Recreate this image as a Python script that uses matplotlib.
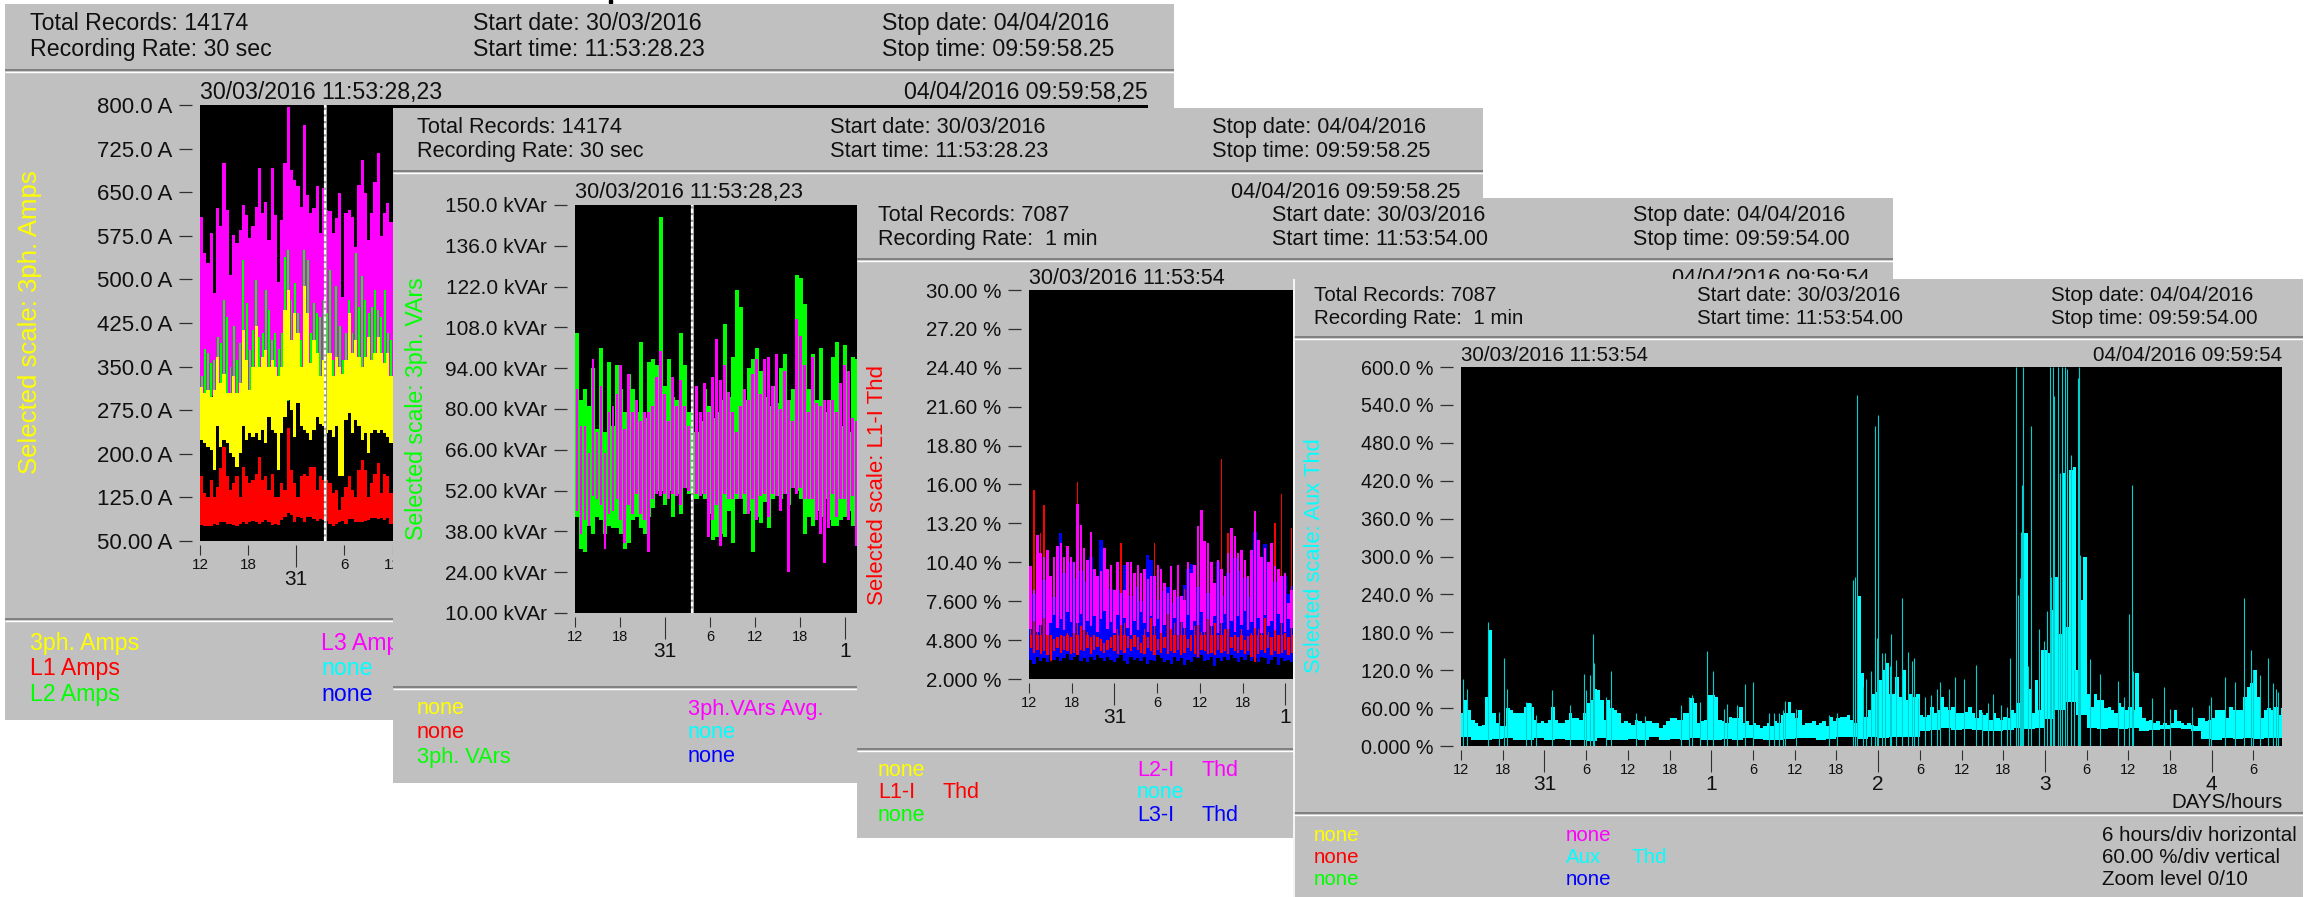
import numpy as np
import matplotlib
matplotlib.use('Agg')
from matplotlib import pyplot as plt

plt.rcParams['font.family'] = ['Liberation Sans', 'DejaVu Sans']

W, H = 2318, 897

GRIS = '#c0c0c0'
YELLOW, RED, GREEN, MAGENTA, CYAN, BLUE = '#ffff00', '#ff0000', '#00ff00', '#ff00ff', '#00ffff', '#0000ff'

# hours axis (hours since 30/03 12:00)
hour_ticks = [h for h in range(0, 118, 6) if h not in (12, 36, 60, 84, 108)]
hour_labels = [str((12 + h) % 24) for h in hour_ticks]
day_ticks = [12, 36, 60, 84, 108]
day_labels = ['31', '1', '2', '3', '4']
x_end = 118.1

# panel 1 : 3ph amps, one value every 0.4 h
amps_l3_hi = [608, 545, 528, 579, 476, 622, 591, 700, 619, 507, 576, 562, 585, 628, 611, 571, 591, 625, 691, 614,
              634, 568, 691, 611, 496, 602, 700, 797, 688, 671, 660, 625, 766, 645, 614, 622, 660, 579, 657, 619,
              617, 579, 605, 648, 470, 614, 619, 608, 556, 662, 705, 648, 568, 614, 668, 717, 574, 614, 631, 599, 510]
amps_l2_hi = [333, 381, 373, 356, 361, 401, 390, 465, 436, 350, 419, 361, 390, 533, 459, 379, 413, 499, 401, 407,
              482, 447, 396, 407, 381, 407, 539, 551, 465, 493, 442, 396, 551, 533, 407, 459, 442, 436, 465, 442,
              516, 361, 488, 419, 361, 407, 465, 407, 545, 453, 505, 465, 442, 453, 482, 447, 436, 482, 407, 396, 379]
amps_3ph_hi = [315, 304, 310, 298, 310, 367, 321, 338, 304, 304, 333, 304, 321, 413, 361, 310, 350, 419, 350, 367,
               379, 350, 361, 350, 333, 350, 447, 482, 396, 442, 407, 350, 488, 442, 356, 396, 373, 333, 361, 373,
               373, 333, 367, 350, 338, 361, 442, 373, 396, 367, 350, 367, 401, 361, 373, 401, 373, 356, 373, 333, 315]
amps_3ph_lo = [224, 218, 212, 207, 172, 247, 212, 224, 218, 201, 195, 178, 201, 247, 224, 235, 229, 235, 224, 241,
               218, 264, 241, 235, 172, 235, 264, 293, 275, 229, 287, 247, 241, 235, 224, 241, 264, 252, 247, 235,
               241, 229, 247, 161, 161, 258, 270, 235, 258, 247, 224, 235, 201, 235, 241, 235, 241, 235, 229, 218, 212]
amps_l1_hi = [161, 132, 126, 155, 126, 143, 175, 212, 161, 138, 149, 161, 126, 178, 161, 149, 155, 166, 195, 155,
              161, 138, 166, 126, 126, 149, 138, 244, 172, 149, 126, 161, 166, 161, 178, 178, 138, 161, 155, 155,
              149, 132, 138, 103, 126, 143, 161, 138, 126, 172, 189, 172, 126, 149, 166, 184, 132, 166, 161, 132, 126]
amps_l1_lo = [78, 75, 76, 75, 80, 78, 82, 83, 79, 80, 78, 75, 80, 83, 79, 83, 85, 82, 79, 83,
              86, 82, 78, 80, 78, 86, 92, 98, 95, 83, 92, 89, 83, 92, 91, 87, 85, 87, 86, 85,
              80, 76, 80, 82, 85, 80, 87, 87, 83, 82, 83, 85, 86, 89, 89, 87, 89, 86, 89, 79, 83]

# panel 2 : VArs, one value every 0.533 h
vars_hi = [106, 83, 87, 81, 94, 73, 101, 72, 96, 74, 95, 87, 79, 92, 87, 79, 103, 77, 96, 97, 95, 146, 88, 97,
           84, 83, 106, 95, 79, 72, 72, 76, 87, 81, 77, 79, 83, 109, 84, 98, 121, 115, 83, 94, 97, 101, 93, 84,
           81, 88, 82, 94, 99, 83, 87, 126, 125, 116, 87, 99, 83, 101, 79, 83, 98, 103, 74, 102, 72, 98, 97]
vars_lo = [43, 32, 31, 40, 37, 43, 42, 37, 40, 39, 39, 37, 32, 34, 42, 43, 39, 37, 43, 46, 52, 52, 47, 52,
           43, 51, 44, 53, 51, 49, 49, 51, 49, 44, 35, 36, 37, 36, 45, 34, 49, 49, 44, 45, 31, 43, 41, 48,
           39, 49, 50, 49, 51, 47, 53, 52, 49, 37, 43, 40, 45, 43, 49, 42, 40, 40, 42, 43, 45, 40, 43]
vars_avg_hi = [87, 74, 74, 65, 97, 72, 88, 65, 79, 81, 85, 95, 73, 92, 79, 83, 76, 79, 79, 81, 91, 100, 85, 76,
               91, 81, 90, 81, 74, 88, 88, 79, 89, 79, 91, 104, 90, 95, 86, 79, 72, 81, 87, 83, 92, 97, 85, 97,
               98, 88, 99, 80, 93, 83, 76, 111, 105, 95, 79, 98, 82, 81, 83, 83, 83, 79, 89, 95, 93, 77, 76]
vars_avg_lo = [45, 37, 42, 40, 50, 49, 47, 32, 44, 45, 49, 42, 34, 47, 44, 51, 44, 42, 31, 49, 51, 50, 51, 49,
               51, 50, 47, 53, 52, 51, 51, 50, 51, 36, 42, 47, 33, 51, 49, 49, 51, 49, 51, 44, 49, 42, 50, 51,
               43, 51, 50, 45, 51, 24, 53, 51, 53, 49, 49, 49, 42, 37, 27, 39, 51, 43, 49, 49, 42, 50, 33]

# panel 3 : L-I Thd, one value every 0.47 h
thd_l2_hi = [10.1, 8.4, 12.4, 11.1, 10.8, 11.3, 9.4, 10.8, 11.6, 11.8, 10.8, 11.6, 10.8, 10.4, 14.6, 13.1, 11.4, 10.6, 12.6, 9.9,
             9.4, 9.8, 11.4, 9.9, 10.2, 8.4, 10.4, 8.2, 8.4, 10.4, 10.4, 9.6, 10.2, 9.6, 9.9, 9.2, 9.4, 9.4, 10.2, 9.9,
             8.9, 8.2, 10.1, 8.4, 10.2, 8, 7.7, 10.4, 9.6, 10.2, 13, 14.2, 11.9, 11.8, 10.4, 8.9, 10.6, 9.9, 9.4, 11.1,
             12.9, 12.3, 11.1, 11.3, 10.6, 9.4, 11.3, 14.1, 12, 10.8, 11.4, 10.4, 11.8, 10.1, 9.9, 9.4, 9.6, 7.5, 8.4, 8.4]
thd_l2_lo = [5.6, 6.2, 5.4, 5.9, 6.4, 5.2, 6, 6.6, 5.7, 6.3, 5.5, 6.8, 6.1, 5.3, 6, 6.7, 5.5, 6.2, 5.8, 6.5,
             5.4, 6.3, 6.9, 5.6, 6.1, 5.3, 6.6, 5.9, 6.4, 5.7, 5.2, 6.2, 5.5, 6.8, 6, 5.4, 6.5, 5.8, 6.3, 5.3,
             5.9, 6.7, 5.6, 6.4, 5.2, 6.1, 5.7, 6.6, 5.5, 6.2, 5.9, 6.8, 5.4, 6.3, 5.8, 6.5, 5.3, 6, 6.7, 5.6,
             6.2, 5.4, 6.5, 5.9, 6.9, 5.5, 6.1, 5.7, 6.4, 5.3, 6.6, 5.8, 6.2, 5.5, 6.7, 6, 5.4, 6.3, 5.7, 6.1]
thd_l3_hi = [7.6, 8.1, 7.4, 8.6, 9.1, 8.2, 8.8, 7.9, 10.2, 12.5, 9.6, 9.0, 10.4, 9.2, 8.4, 9.8, 9.0, 7.8, 10.8, 8.6,
             8.2, 12.0, 8.7, 7.9, 8.5, 8.1, 9.1, 8.4, 10.2, 8.9, 8.0, 9.3, 8.6, 7.6, 8.2, 10.9, 10.6, 9.0, 7.7, 8.3,
             7.4, 8.6, 7.5, 8.1, 7.9, 7.2, 8.8, 9.9, 10.3, 9.2, 8.6, 10.6, 9.4, 8.2, 9.0, 8.1, 10.4, 9.1, 8.0, 9.6,
             8.5, 10.7, 9.8, 8.2, 9.3, 7.9, 10.1, 12.6, 9.4, 8.8, 11.7, 9.2, 10.6, 9.0, 8.2, 7.8, 9.4, 8.1, 8.7, 7.4]
thd_l3_lo = [3.4, 3.1, 3.6, 3.3, 3.5, 3.2, 3.7, 3.4, 3.6, 3.3, 3.5, 3.8, 3.4, 3.6, 3.7, 3.3, 3.5, 3.2, 3.6, 3.4,
             3.7, 3.5, 3.3, 3.6, 3.4, 3.2, 3.5, 3.7, 3.3, 3.1, 3.6, 3.4, 3.5, 3.3, 3.6, 3.1, 3.4, 3.3, 3.7, 3.5,
             3.2, 3.4, 3.1, 3.6, 3.3, 3.5, 3.0, 3.4, 3.2, 3.6, 3.5, 3.7, 3.3, 3.4, 3.6, 2.9, 3.5, 3.3, 3.6, 3.4,
             3.7, 3.5, 3.2, 3.6, 3.4, 3.7, 3.3, 3.5, 3.2, 3.6, 3.5, 3.1, 3.4, 3.6, 3.0, 3.5, 3.3, 3.4, 3.2, 3.6]
thd_l1_hi = [10.1, 15.6, 6, 12.5, 14.5, 11.3, 5.2, 4.9, 5.0, 5.2, 5.1, 5.3, 5.0, 5.6, 16.2, 5.8, 6, 5.4, 5.0, 5.2,
             5.0, 4.9, 4.6, 4.8, 5.0, 5.2, 5.6, 11.8, 6, 5.1, 4.9, 5.2, 5.0, 4.6, 5.6, 5.0, 6.4, 11.8, 4.9, 6.4,
             5.0, 7.8, 9.9, 6, 7.1, 6.2, 8.5, 4.9, 5.2, 5.8, 7.5, 5.4, 6.4, 10.2, 9.6, 6.0, 5.2, 17.8, 5.6, 12.5,
             5.0, 5.2, 5.0, 5.6, 4.8, 5.1, 5.3, 14.0, 5.6, 5.8, 6.4, 5.4, 5.0, 13.2, 5.2, 15.3, 5.3, 5.0, 12.9, 8.2]
thd_l1_lo = [4.2, 3.9, 4.1, 3.8, 4.0, 3.7, 3.3, 4.0, 4.2, 3.9, 4.1, 4.0, 3.8, 3.9, 3.7, 4.1, 4.0, 4.2, 3.8, 4.1,
             4.3, 4.0, 3.9, 4.1, 4.2, 4.0, 3.8, 4.1, 3.9, 4.2, 4.0, 4.3, 4.1, 3.9, 3.8, 4.2, 4.0, 3.7, 4.1, 3.9,
             4.2, 3.8, 4.0, 3.9, 4.1, 3.7, 3.9, 4.2, 4.0, 3.8, 3.6, 4.1, 4.0, 3.8, 3.9, 3.7, 4.1, 3.9, 4.0, 3.8,
             4.2, 4.0, 3.9, 4.1, 3.8, 4.0, 3.6, 3.2, 3.8, 4.1, 3.9, 4.2, 3.7, 4.0, 3.8, 3.9, 4.1, 3.7, 3.9, 4.0]

# panel 4 : Aux Thd, body every 0.5 h, black floor every 1.5 h, thin spikes apart
aux_hi = [52, 73, 57, 41, 36, 31, 33, 78, 184, 52, 36, 31, 31, 60, 57, 52, 52, 52, 62, 68, 62, 41, 36, 39, 36, 41, 62, 41, 36, 36,
          41, 52, 44, 44, 41, 52, 68, 73, 91, 89, 73, 41, 73, 60, 57, 52, 36, 39, 36, 33, 41, 39, 36, 39, 39, 36, 36, 28, 33, 39,
          44, 44, 41, 41, 52, 52, 76, 68, 36, 39, 41, 81, 81, 78, 41, 39, 36, 46, 44, 44, 62, 36, 39, 33, 36, 33, 28, 31, 36, 31,
          39, 36, 49, 52, 70, 52, 44, 57, 33, 36, 36, 39, 33, 36, 39, 31, 46, 39, 44, 46, 46, 49, 41, 36, 237, 115, 46, 57, 83, 86,
          105, 120, 131, 83,
          83, 110, 78, 120, 73, 83, 78, 83, 49, 46, 49, 62, 52, 57, 78, 62, 57, 62, 52, 52, 52, 54, 62, 52, 44, 57, 49, 52, 41, 52,
          44, 41, 46, 44, 57, 52, 68, 242, 337, 91, 52, 105, 57, 152, 152, 147, 215, 268, 178, 432, 189, 437, 442, 120, 231, 300,
          83, 62, 83, 73, 73, 60, 62, 57, 52, 68, 62, 57, 62, 57, 115, 62, 44, 39, 41, 36, 39, 33, 36, 33, 36, 57, 39, 36, 33, 36,
          33, 31, 44, 44, 39, 41, 44, 57, 57, 57, 44, 62, 57, 57, 57, 78, 94, 99, 120, 78, 44, 57, 60, 57, 62, 49, 60]
aux_lo = [14, 10, 9, 11, 12, 9, 10, 13, 9, 11, 10, 9, 8, 12, 10, 9, 11, 10, 14, 9, 11, 10, 12, 10, 9, 11, 10, 12, 11, 9,
          10, 11, 12, 13, 10, 11, 14, 15, 11, 14, 13, 15, 15, 14, 24, 26, 28, 25, 27, 26, 23, 24, 25, 29, 27, 29, 43, 57, 69, 49,
          29, 27, 29, 27, 29, 24, 26, 27, 28, 27, 23, 11, 10, 12, 11, 12, 11, 13, 12, 10]
spike_hours = [.24, .91, 3.88, 5.45, 6.17, 6.56, 9.28, 10.14, 10.77, 13.11, 15.65, 17.66, 17.99, 18.61, 18.95, 19.09,
               20.81, 21.53, 25.22, 26.41, 31.67, 32.78, 33.2, 34.4, 35.45, 36.32, 37.8, 38.28, 39.67, 40.86, 41.96,
               44.35, 45.07, 45.69, 46.27, 46.65, 48.18, 52.87, 54.02, 56.32, 56.65, 56.94, 57.85, 58.23, 58.95, 59.57,
               59.9, 60.05, 60.53, 60.96, 61.75, 61.89, 62.51, 63.42, 64.24, 64.81, 65.15, 65.67, 66.77, 67.68, 68.54,
               68.97, 70.22, 71.13, 72.37, 74.05, 74.95, 75.77, 76.53, 77.63, 78.59, 78.97, 79.88, 80.07, 80.46, 80.6,
               80.74, 80.89, 81.6, 82.04, 83.14, 83.85, 84.33, 84.67, 84.86, 85.15, 85.34, 85.82, 86.2, 86.44, 86.87,
               87.2, 87.68, 88.16, 88.78, 88.97, 89.02, 90.46, 91.99, 94.53, 95.34, 96.1, 96.49, 96.68, 99.45, 101.17,
               102.04, 105.15, 107.63, 107.92, 109.83, 111.37, 112.66, 113.66, 114, 114.95, 116.15, 116.87, 117.25, 117.59]
spike_vals = [106, 91, 197, 54, 139, 91, 69, 68, 49, 89, 65, 114, 89, 112, 177, 131,
              77, 119, 52, 48, 65, 77, 81, 70, 151, 118, 58, 67, 65, 98, 101,
              52, 52, 52, 57, 71, 58, 49, 52, 263, 268, 556, 94, 106, 119, 507,
              171, 524, 147, 148, 126, 178, 136, 235, 149, 134, 140, 76, 78, 81, 91,
              102, 91, 110, 106, 129, 54, 68, 83, 65, 62, 140, 600, 239, 266, 338,
              413, 600, 126, 507, 186, 166, 213, 600, 268, 600, 554, 600, 432, 600, 600,
              597, 461, 120, 582, 600, 303, 137, 114, 103, 78, 209, 413, 118, 76, 93,
              58, 61, 65, 78, 110, 102, 234, 152, 120, 112, 139, 100, 90, 86]

# tick labels
amps_ticks = [50, 125, 200, 275, 350, 425, 500, 575, 650, 725, 800]
amps_labels = ['50.00 A', '125.0 A', '200.0 A', '275.0 A', '350.0 A', '425.0 A', '500.0 A', '575.0 A', '650.0 A', '725.0 A', '800.0 A']
vars_ticks = [10, 24, 38, 52, 66, 80, 94, 108, 122, 136, 150]
vars_labels = ['10.00 kVAr', '24.00 kVAr', '38.00 kVAr', '52.00 kVAr', '66.00 kVAr', '80.00 kVAr', '94.00 kVAr',
               '108.0 kVAr', '122.0 kVAr', '136.0 kVAr', '150.0 kVAr']
thd_ticks = [2, 4.8, 7.6, 10.4, 13.2, 16, 18.8, 21.6, 24.4, 27.2, 30]
thd_labels = ['2.000 %', '4.800 %', '7.600 %', '10.40 %', '13.20 %', '16.00 %', '18.80 %', '21.60 %', '24.40 %', '27.20 %', '30.00 %']
aux_ticks = [0, 60, 120, 180, 240, 300, 360, 420, 480, 540, 600]
aux_labels = ['0.000 %', '60.00 %', '120.0 %', '180.0 %', '240.0 %', '300.0 %', '360.0 %', '420.0 %', '480.0 %', '540.0 %', '600.0 %']

fig = plt.figure(figsize=(W / 100, H / 100), dpi=100, facecolor='white')


def box(x0, y0, x1, y1):
    return [x0 / W, 1 - y1 / H, (x1 - x0) / W, (y1 - y0) / H]


def panel(n, rect, plot, seps, fs, tick_fs, hour_fs, day_fs, header, stamps, scale, ylim, yticks, ylabels, legend, h_max):
    # grey window, everything written in image pixels
    bg = fig.add_axes(box(*rect), zorder=10 * n, facecolor=GRIS)
    bg.set_xlim(rect[0], rect[2])
    bg.set_ylim(rect[3], rect[1])
    bg.set_xticks([])
    bg.set_yticks([])
    for s in bg.spines.values():
        s.set_visible(False)
    for y in seps:
        bg.plot([rect[0], rect[2]], [y, y], color='#808080', lw=1.4, solid_capstyle='butt')
        bg.plot([rect[0], rect[2]], [y + 2, y + 2], color='white', lw=1.0, solid_capstyle='butt')
    for x, y, txt in header:
        bg.text(x, y, txt, fontsize=fs, color='#101010', va='center', ha='left')
    bg.text(plot[0], stamps[0], stamps[1], fontsize=fs, color='#101010', va='center', ha='left')
    bg.text(plot[2], stamps[0], stamps[2], fontsize=fs, color='#101010', va='center', ha='right')
    bg.text(scale[0], scale[1], scale[2], fontsize=scale[4], color=scale[3], rotation=90, va='center', ha='center')
    for x, y, txt, c in legend:
        bg.text(x, y, txt, fontsize=fs, color=c, va='center', ha='left')

    # plot, ticks sit a little away from the black area
    ax = fig.add_axes(box(*plot), zorder=10 * n + 1, facecolor='black')
    ax.set_xlim(0, x_end)
    ax.set_ylim(*ylim)
    ax.spines['left'].set_position(('outward', 5.5))
    ax.spines['bottom'].set_position(('outward', 3))
    for s in ax.spines.values():
        s.set_visible(False)
    ax.set_yticks(yticks)
    ax.set_yticklabels(ylabels, fontsize=tick_fs, color='#101010')
    ax.tick_params(axis='y', length=9.5, width=0.9, pad=5, color='#303030')
    # only the ticks the next window does not hide
    hs = [(h, l) for h, l in zip(hour_ticks, hour_labels) if h <= h_max]
    ds = [(h, l) for h, l in zip(day_ticks, day_labels) if h <= h_max]
    ax.set_xticks([h for h, l in hs])
    ax.set_xticklabels([l for h, l in hs], fontsize=hour_fs, color='#101010')
    ax.set_xticks([h for h, l in ds], minor=True)
    ax.set_xticklabels([l for h, l in ds], minor=True, fontsize=day_fs, color='#101010')
    ax.tick_params(axis='x', which='major', length=7, width=0.8, pad=2, color='#303030')
    ax.tick_params(axis='x', which='minor', length=16, width=0.8, pad=2, color='#303030')
    return bg, ax


def cols(ax, hi, lo, step, color, width=1.0, aa=False):
    hi = np.array(hi, dtype=float)
    n = len(hi)
    lo = np.array(lo, dtype=float)[:n]
    hi = hi[:len(lo)]
    x = (np.arange(len(hi)) + 0.5) * step
    ax.bar(x, hi - lo, bottom=lo, width=step * width, color=color, linewidth=0, antialiased=aa)


def cursor(ax, h):
    ax.axvline(h, color='#9a9a9a', lw=2.2)
    ax.axvline(h, color='white', lw=1.6, ls=(0, (2, 1)))


# panel 1
bg, ax = panel(1, (5, 4, 1174, 720), (200, 105, 1148, 541), [70, 619], 16.7, 16, 11, 15,
               [(30, 23, 'Total Records: 14174'), (30, 49, 'Recording Rate: 30 sec'),
                (473, 23, 'Start date: 30/03/2016'), (473, 49, 'Start time: 11:53:28.23'),
                (882, 23, 'Stop date: 04/04/2016'), (882, 49, 'Stop time: 09:59:58.25')],
               (92, '30/03/2016 11:53:28,23', '04/04/2016 09:59:58,25'),
               (30, 322, 'Selected scale: 3ph. Amps', YELLOW, 18.5), (50, 800), amps_ticks, amps_labels,
               [(30, 643, '3ph. Amps', YELLOW), (30, 668, 'L1 Amps', RED), (30, 694, 'L2 Amps', GREEN),
                (321, 643, 'L3 Amps', MAGENTA), (321, 668, 'none', CYAN), (321, 694, 'none', BLUE)], 24)
cols(ax, amps_l3_hi, [300] * len(amps_l3_hi), 0.4, MAGENTA)
cols(ax, amps_l2_hi, [290] * len(amps_l2_hi), 0.4, GREEN, 0.6, True)
cols(ax, amps_3ph_hi, amps_3ph_lo, 0.4, YELLOW)
cols(ax, amps_l1_hi, amps_l1_lo, 0.4, RED)
cursor(ax, 15.6)

# bit of the cut title above the first window
fig.add_artist(plt.Rectangle((609 / W, 1 - 3 / H), 3 / W, 3 / H, color='black', transform=fig.transFigure))

# panel 2
bg, ax = panel(2, (393, 108, 1483, 783), (575, 205, 1460, 613), [171, 687], 15.7, 15, 10.5, 15,
               [(417, 128, 'Total Records: 14174'), (417, 152, 'Recording Rate: 30 sec'),
                (830, 128, 'Start date: 30/03/2016'), (830, 152, 'Start time: 11:53:28.23'),
                (1212, 128, 'Stop date: 04/04/2016'), (1212, 152, 'Stop time: 09:59:58.25')],
               (193, '30/03/2016 11:53:28,23', '04/04/2016 09:59:58.25'),
               (416, 409, 'Selected scale: 3ph. VArs', GREEN, 16.7), (10, 150), vars_ticks, vars_labels,
               [(417, 709, 'none', YELLOW), (417, 733, 'none', RED), (417, 757, '3ph. VArs', GREEN),
                (688, 709, '3ph.VArs Avg.', MAGENTA), (688, 733, 'none', CYAN), (688, 757, 'none', BLUE)], 37)
cols(ax, vars_hi, vars_lo, 0.533, GREEN, 1.0, True)
cols(ax, vars_avg_hi, vars_avg_lo, 0.533, MAGENTA, 0.72, True)
cursor(ax, 15.6)

# panel 3
bg, ax = panel(3, (857, 198, 1893, 838), (1029, 290, 1870, 679), [259, 749], 15.5, 14.8, 10.5, 15,
               [(878, 216, 'Total Records: 7087'), (878, 240, 'Recording Rate:  1 min'),
                (1272, 216, 'Start date: 30/03/2016'), (1272, 240, 'Start time: 11:53:54.00'),
                (1633, 216, 'Stop date: 04/04/2016'), (1633, 240, 'Stop time: 09:59:54.00')],
               (279, '30/03/2016 11:53:54', '04/04/2016 09:59:54'),
               (878, 485, 'Selected scale: L1-I Thd', RED, 16), (2, 30), thd_ticks, thd_labels,
               [(878, 770, 'none', YELLOW), (878, 792, 'L1-I', RED), (943, 792, 'Thd', RED), (878, 815, 'none', GREEN),
                (1137, 770, 'L2-I', MAGENTA), (1202, 770, 'Thd', MAGENTA), (1137, 792, 'none', CYAN),
                (1137, 815, 'L3-I', BLUE), (1202, 815, 'Thd', BLUE)], 37)
cols(ax, thd_l3_hi, thd_l3_lo, 0.47, BLUE, 1.0, True)
cols(ax, thd_l1_hi, thd_l1_lo, 0.47, RED, 0.45, True)
cols(ax, thd_l2_hi, thd_l2_lo, 0.47, MAGENTA, 0.75, True)
cols(ax, [min(v, 5.2) for v in thd_l1_hi], thd_l1_lo, 0.47, RED, 0.7, True)

# panel 4
bg, ax = panel(4, (1293, 279, 2303, 897), (1461, 367, 2282, 746), [337, 813], 14.8, 14.2, 10.5, 15,
               [(1314, 296, 'Total Records: 7087'), (1314, 319, 'Recording Rate:  1 min'),
                (1697, 296, 'Start date: 30/03/2016'), (1697, 319, 'Start time: 11:53:54.00'),
                (2051, 296, 'Stop date: 04/04/2016'), (2051, 319, 'Stop time: 09:59:54.00')],
               (356, '30/03/2016 11:53:54', '04/04/2016 09:59:54'),
               (1314, 556, 'Selected scale: Aux Thd', CYAN, 15.8), (0, 600), aux_ticks, aux_labels,
               [(1314, 835, 'none', YELLOW), (1314, 857, 'none', RED), (1314, 879, 'none', GREEN),
                (1566, 835, 'none', MAGENTA), (1566, 857, 'Aux', CYAN), (1631, 857, 'Thd', CYAN), (1566, 879, 'none', BLUE),
                (2102, 835, '6 hours/div horizontal', '#101010'), (2102, 857, '60.00 %/div vertical', '#101010'),
                (2102, 879, 'Zoom level 0/10', '#101010')], 120)
bg.text(2283, 802, 'DAYS/hours', fontsize=14.8, color='#101010', va='center', ha='right')
bg.axvline(1293.5, color='white', lw=1.2)
ax.vlines(spike_hours, 0, spike_vals, color='#00d0d0', lw=0.8)
cols(ax, aux_hi, [0] * len(aux_hi), 0.5, CYAN, 1.0, True)
cols(ax, aux_lo, [0] * len(aux_lo), 1.5, 'black')

fig.savefig('out.png', dpi=100, facecolor='white')
